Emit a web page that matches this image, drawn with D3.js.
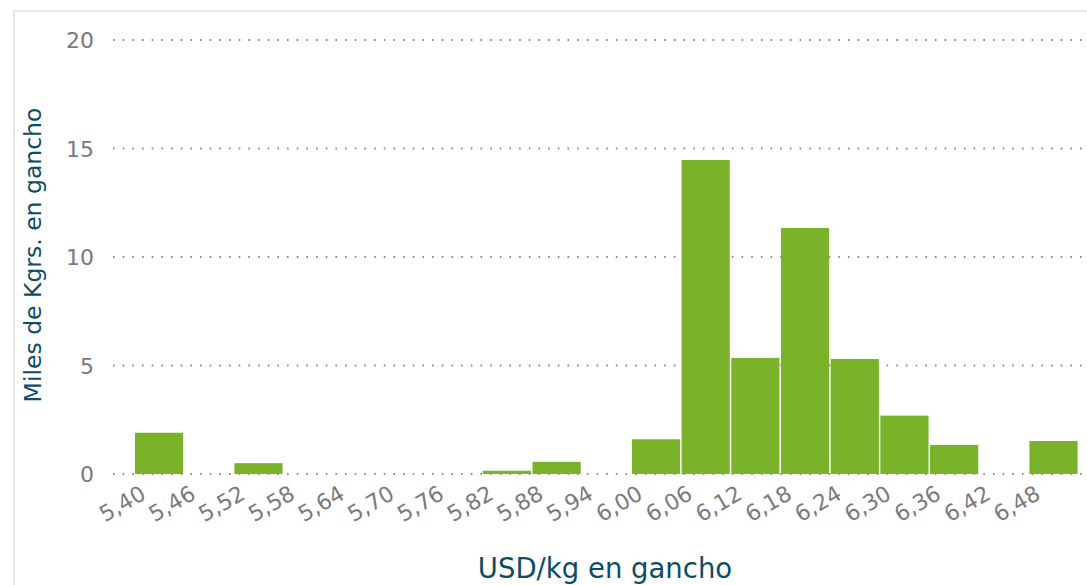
<!DOCTYPE html>
<html>
<head>
<meta charset="utf-8">
<script src="https://cdn.jsdelivr.net/npm/d3@7"></script>
<style>
  html, body { margin: 0; padding: 0; background: #ffffff; }
  svg { display: block; font-family: "DejaVu Sans", Verdana, sans-serif; }
</style>
</head>
<body>
<svg id="chart" width="1087" height="585"></svg>
<script>
// Price bins (USD/kg, lower edge of each bin) and volume in thousands of kg
const binStarts = [5.40, 5.46, 5.52, 5.58, 5.64, 5.70, 5.76, 5.82, 5.88, 5.94,
                   6.00, 6.06, 6.12, 6.18, 6.24, 6.30, 6.36, 6.42, 6.48];
const volumes   = [1.9, 0, 0.5, 0, 0, 0, 0, 0.15, 0.56, 0,
                   1.6, 14.47, 5.35, 11.34, 5.3, 2.69, 1.34, 0, 1.52];
const binWidth = 0.06;
const yTicks = [0, 5, 10, 15, 20];
const yTitle = "Miles de Kgrs. en gancho";
const xTitle = "USD/kg en gancho";

const svg = d3.select("#chart");
const W = 1087, H = 585;

// Outer frame
svg.append("rect")
  .attr("x", 14).attr("y", 11)
  .attr("width", W + 20).attr("height", H + 20)
  .attr("fill", "#ffffff")
  .attr("stroke", "#e6e6e6").attr("stroke-width", 2);

const plotLeft = 113, plotRight = W + 10;
const y = d3.scaleLinear().domain([0, 20]).range([474, 40]);
const x = d3.scaleLinear()
  .domain([binStarts[0], binStarts[binStarts.length - 1] + binWidth])
  .range([134.5, 134.5 + 19 * 49.69]);

const esLocale = d3.formatLocale({ decimal: ",", thousands: ".", grouping: [3], currency: ["", " USD"] });
const fmt = esLocale.format(".2f");

// Dotted horizontal gridlines
svg.append("g").selectAll("line")
  .data(yTicks).join("line")
  .attr("x1", plotLeft).attr("x2", plotRight)
  .attr("y1", d => y(d)).attr("y2", d => y(d))
  .attr("stroke", "#8a8a8a")
  .attr("stroke-width", 2)
  .attr("stroke-dasharray", "1.6,8.07");

// Y axis tick labels
const yAxis = d3.axisLeft(y).tickValues(yTicks).tickSize(0).tickPadding(0);
const gy = svg.append("g").attr("transform", "translate(94,0)").call(yAxis);
gy.select(".domain").remove();
gy.selectAll("text")
  .attr("font-size", 22)
  .attr("font-family", "DejaVu Sans, sans-serif")
  .attr("fill", "#7a7a7a")
  .attr("dy", "0.36em");

// Histogram bars
svg.append("g").selectAll("rect")
  .data(binStarts.map((b, i) => ({ b, v: volumes[i] })).filter(d => d.v > 0))
  .join("rect")
  .attr("x", d => x(d.b) + 0.5)
  .attr("width", d => x(d.b + binWidth) - x(d.b) - 1.5)
  .attr("y", d => y(d.v))
  .attr("height", d => y(0) - y(d.v))
  .attr("fill", "#7ab32a");

// X axis category labels, rotated
svg.append("g").selectAll("text")
  .data(binStarts).join("text")
  .attr("transform", d => {
    const cx = (x(d) + x(d + binWidth)) / 2 - 12;
    return `translate(${cx},498) rotate(-30)`;
  })
  .attr("text-anchor", "end")
  .attr("font-size", 22)
  .attr("fill", "#7a7a7a")
  .text(d => fmt(d));

// Axis titles
svg.append("text")
  .attr("transform", "translate(41,255) rotate(-90)")
  .attr("text-anchor", "middle")
  .attr("font-size", 23.5)
  .attr("fill", "#0e4d64")
  .text(yTitle);

svg.append("text")
  .attr("x", 605).attr("y", 578)
  .attr("text-anchor", "middle")
  .attr("font-size", 27.5)
  .attr("fill", "#0e4d64")
  .text(xTitle);
</script>
</body>
</html>
